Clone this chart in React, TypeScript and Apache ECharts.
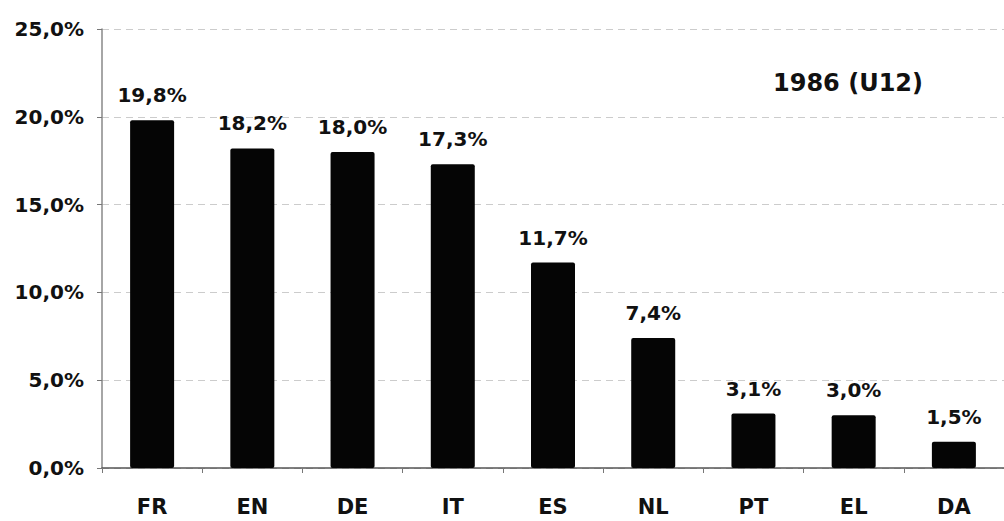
import React, { useEffect, useRef } from "react";
import * as echarts from "echarts";

const categories = ["FR", "EN", "DE", "IT", "ES", "NL", "PT", "EL", "DA"];
const values = [19.8, 18.2, 18.0, 17.3, 11.7, 7.4, 3.1, 3.0, 1.5];
const titleText = "1986 (U12)";
const yTicks = [0, 5, 10, 15, 20, 25];

const fmt = (v: number) => v.toFixed(1).replace(".", ",") + "%";
const FONT = "DejaVu Sans";

export default function App() {
  const ref = useRef<HTMLDivElement>(null);
  useEffect(() => {
    if (!ref.current) return;
    const chart = echarts.init(ref.current, null, { renderer: "svg" });
    chart.setOption({
      animation: false,
      backgroundColor: "#ffffff",
      title: {
        text: titleText,
        left: 843,
        top: 66,
        textAlign: "center",
        textStyle: { fontFamily: FONT, fontWeight: "bold", fontSize: 24, color: "#111" },
      },
      grid: { left: 102, top: 29, width: 905, height: 439 },
      xAxis: {
        type: "category",
        data: categories,
        axisLine: { show: true, lineStyle: { color: "#555", width: 1.5 } },
        axisTick: { show: true, length: 5, lineStyle: { color: "#777" } },
        axisLabel: {
          fontFamily: FONT,
          fontWeight: "bold",
          fontSize: 21,
          color: "#111",
          margin: 28,
        },
      },
      yAxis: {
        type: "value",
        min: yTicks[0],
        max: yTicks[yTicks.length - 1],
        interval: 5,
        axisLine: { show: true, lineStyle: { color: "#888", width: 1.5 } },
        axisTick: { show: true, length: 5, lineStyle: { color: "#777" } },
        splitLine: { show: true, lineStyle: { color: "#cccccc", type: [7, 5], width: 1 } },
        axisLabel: {
          fontFamily: FONT,
          fontWeight: "bold",
          fontSize: 20,
          color: "#111",
          margin: 18,
          formatter: (v: number) => fmt(v),
        },
      },
      series: [
        {
          type: "bar",
          data: values,
          barWidth: 44,
          itemStyle: { color: "#050505", borderRadius: 2 },
          label: {
            show: true,
            position: "top",
            distance: 15,
            fontFamily: FONT,
            fontWeight: "bold",
            fontSize: 20,
            color: "#111",
            formatter: (p: any) => fmt(p.value),
          },
        },
      ],
    });
    return () => chart.dispose();
  }, []);
  return (
    <div
      ref={ref}
      style={{ position: "absolute", left: 0, top: 0, width: 1004, height: 521 }}
    />
  );
}
